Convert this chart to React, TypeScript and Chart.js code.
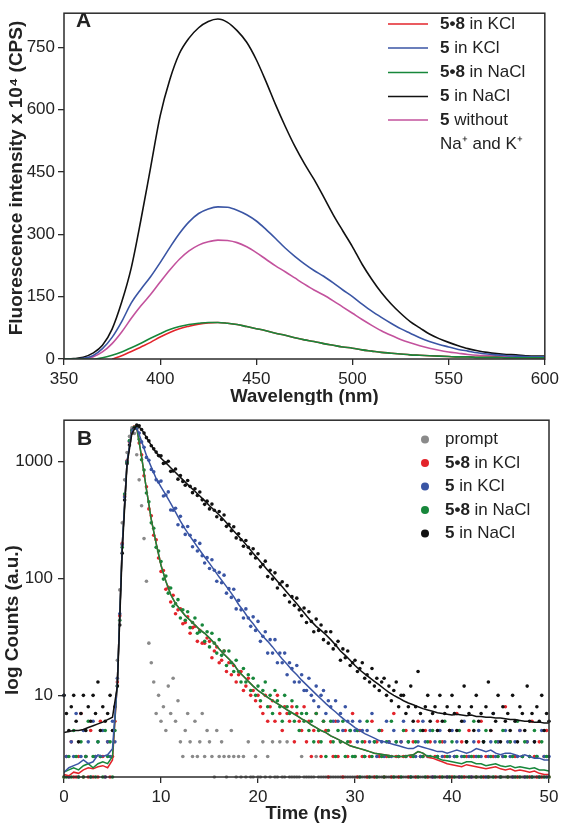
import React, { useEffect, useRef } from 'react';
import { Chart, registerables } from 'chart.js';

Chart.register(...registerables);

const FONT_FAMILY = '"Liberation Sans", Arial, Helvetica, sans-serif';
const INK = '#222222';
const FRAME = '#2b2b2b';

const RED = '#e3242b';
const BLUE = '#3a55a4';
const GREEN = '#17873b';
const BLACK = '#111111';
const MAGENTA = '#c3529d';
const GRAY = '#8a8a8a';

// ---------------- Panel A : emission spectra ----------------
const wavelengthNm = [
  350, 355, 360, 365, 370, 375, 380, 385, 390, 395,
  400, 405, 410, 415, 420, 425, 430, 435, 440, 445,
  450, 455, 460, 465, 470, 475, 480, 485, 490, 495,
  500, 505, 510, 515, 520, 525, 530, 535, 540, 545,
  550, 555, 560, 565, 570, 575, 580, 585, 590, 595, 600,
];
const wavelengthTicks = [350, 400, 450, 500, 550, 600];
const intensityTicks = [0, 150, 300, 450, 600, 750];

const emission58KCl = [
  null, null, null, null, null, 0, 8, 18, 29, 40,
  53, 64, 73, 79, 84, 87, 88, 86, 83, 78,
  73, 68, 62, 57, 51, 46, 42, 37, 33, 29,
  26, 22, 19, 16, 14, 12, 10, 9, 8, 7,
  6, 5, 5, 4, 4, 4, 3, 3, 3, 3, 3,
];
const emission5KCl = [
  0, 0, 2, 8, 25, 52, 90, 135, 168, 198,
  232, 268, 302, 330, 350, 361, 366, 365, 358, 347,
  332, 312, 290, 267, 247, 229, 213, 199, 183, 166,
  150, 132, 115, 100, 86, 73, 62, 51, 42, 35,
  29, 23, 19, 15, 12, 10, 8, 7, 6, 5, 5,
];
const emission58NaCl = [
  0, 0, 0, 0, 3, 9, 17, 27, 38, 50,
  61, 71, 78, 83, 86, 88, 88, 86, 83, 78,
  73, 68, 62, 57, 51, 46, 42, 37, 33, 29,
  26, 22, 19, 16, 14, 12, 10, 9, 8, 7,
  6, 5, 5, 4, 4, 4, 3, 3, 3, 3, 3,
];
const emission5NaCl = [
  0, 1, 4, 14, 33, 72, 137, 220, 335, 460,
  585, 672, 735, 772, 797, 812, 818, 810, 790, 762,
  720, 668, 612, 560, 512, 470, 432, 390, 347, 308,
  270, 228, 192, 160, 133, 110, 90, 75, 60, 49,
  40, 32, 25, 20, 16, 13, 11, 10, 8, 7, 7,
];
const emission5Free = [
  0, 0, 1, 5, 17, 37, 65, 98, 128, 155,
  185, 214, 240, 260, 274, 282, 286, 285, 280, 270,
  256, 240, 224, 210, 195, 180, 166, 154, 140, 125,
  110, 95, 81, 68, 57, 47, 39, 32, 26, 21,
  17, 14, 11, 9, 8, 7, 6, 5, 5, 4, 4,
];

const spectraLegendBold = ['5\u20228', '5', '5\u20228', '5', '5'];
const spectraLegendRest = [' in KCl', ' in KCl', ' in NaCl', ' in NaCl', ' without'];
const spectraLegendExtra = ['', '', '', '', 'Na\u207A and K\u207A'];

// ---------------- Panel B : fluorescence decays ----------------
const CHANNEL_NS = 0.25; // width of one TCSPC channel for the dot data
const FIT_STEP_NS = 0.5; // spacing of the fitted curves
const timeTicks = [0, 10, 20, 30, 40, 50];
const countTicks = [10, 100, 1000];

const promptCounts = [
  null, null, null, null, null, null, null, null, null, null, null, null, null, null, null, null, null, null, null, null,
  null, null, 20, 80, 300, 700, 1200, 1650, 1950, 1750, 1150, 700, 420, 220, 95, 28, 19, 13, 7, 10,
  6, 8, 5, 12, 7, 14, 6, 9, 4, 3, 5, 7, 4, 3, 6, 3, 4, 7, 3, 5,
  4, 3, 2, 5, 3, 4, 3, 2, 3, 5, 3, 2, 3, 2, 3, 2, 4, 2, 2, 3,
  2, 2, 4, 2, 3, 2, 4, 2, 2, 4, 2, 2, 4, 2, 2, 2, 2, 2, 3, 2,
  2, 2, 2, 2, 3, 2, 2, 2, 2, 2, 2, 2, 2, 2, 2, 2, 2, 2, 2, 2,
  2, 2, 2, 2, 2, 2, 2, 2, 2, 2, 2, 2, 2, 2, 2, 2, 2, 2, 2, 2,
  2, 2, 2, 2, 2, 2, 2, 2, 2, 2, 2, 2, 2, 2, 2, 2, 2, 2, 2, 2,
  2, 2, 2, 2, 2, 2, 2, 2, 2, 2, 2, 2, 2, 2, 2, 2, 2, 2, 2, 2,
  2, 2, 2, 2, 2, 2, 2, 2, 2, 2, 2, 2, 2, 2, 2, 2, 2, 2, 2, 2,
  null,
];
const counts58KCl = [
  2, 3, 2, 4, 2, 2, 3, 7, 2, 3, 2, 5, 2, 3, 2, 6, 3, 2, 4, 2,
  3, 6, 13, 48, 200, 510, 1020, 1480, 1860, 1990, 1930, 1450, 1150, 760, 610, 395, 345, 235, 215, 150,
  115, 117, 81, 84, 63, 72, 50, 54, 55, 41, 42, 47, 34, 38, 39, 29, 36, 28, 28, 31,
  29, 21, 24, 26, 19, 20, 24, 16, 19, 15, 18, 13, 15, 16, 11, 12, 14, 10, 11, 9,
  10, 8, 7, 10, 6, 8, 9, 6, 10, 7, 5, 8, 7, 6, 8, 4, 7, 6, 5, 8,
  4, 6, 3, 5, 7, 4, 3, 6, 5, 2, 4, 3, 6, 3, 4, 2, 5, 3, 4, 7,
  3, 2, 5, 3, 4, 2, 3, 6, 2, 4, 3, 5, 2, 3, 4, 2, 7, 3, 2, 4,
  3, 5, 2, 3, 4, 2, 6, 3, 3, 5, 2, 4, 2, 3, 6, 2, 4, 3, 2, 5,
  2, 3, 7, 2, 4, 2, 3, 5, 2, 3, 2, 4, 6, 2, 3, 2, 5, 3, 2, 4,
  2, 3, 8, 2, 4, 2, 3, 2, 5, 3, 2, 4, 2, 6, 3, 2, 4, 2, 3, 5,
  2,
];
const counts5KCl = [
  10, 3, 2, 4, 3, 7, 2, 3, 5, 3, 4, 2, 6, 3, 4, 3, 5, 2, 4, 3,
  6, 4, 14, 50, 195, 500, 1010, 1500, 1870, 1960, 1940, 1760, 1480, 1330, 1090, 1030, 860, 820, 700, 670,
  683, 509, 520, 552, 387, 385, 400, 289, 341, 278, 239, 279, 235, 187, 212, 172, 200, 157, 136, 151,
  122, 145, 118, 95, 113, 92, 107, 75, 82, 69, 81, 55, 65, 54, 46, 55, 46, 39, 47, 36,
  43, 29, 32, 35, 23, 30, 23, 30, 19, 23, 19, 23, 15, 19, 17, 13, 18, 13, 15, 11,
  11, 14, 10, 9, 12, 8, 10, 11, 7, 9, 8, 6, 9, 6, 7, 5, 8, 6, 5, 6,
  5, 4, 6, 5, 3, 5, 4, 7, 4, 3, 5, 4, 3, 6, 4, 3, 5, 4, 3, 4,
  6, 3, 4, 2, 5, 3, 4, 3, 6, 4, 3, 5, 2, 4, 3, 5, 3, 4, 2, 3,
  5, 3, 4, 2, 3, 6, 4, 3, 2, 4, 3, 5, 3, 4, 2, 3, 4, 7, 3, 4,
  2, 3, 5, 4, 3, 2, 4, 3, 5, 3, 2, 4, 3, 2, 4, 3, 2, 5, 3, 2,
  3,
];
const counts58NaCl = [
  2, 2, 3, 2, 5, 3, 2, 4, 2, 3, 6, 2, 3, 2, 4, 3, 2, 5, 3, 4,
  2, 5, 12, 44, 185, 530, 990, 1520, 1840, 1970, 1960, 1560, 1040, 850, 540, 455, 300, 270, 185, 172,
  140, 99, 105, 75, 83, 58, 61, 66, 46, 54, 44, 52, 38, 42, 46, 34, 35, 40, 29, 35,
  26, 34, 28, 23, 30, 22, 24, 18, 24, 19, 16, 20, 16, 13, 17, 13, 15, 11, 14, 10,
  12, 9, 11, 13, 8, 10, 7, 11, 9, 8, 6, 10, 8, 7, 9, 6, 8, 5, 7, 6,
  7, 5, 6, 4, 7, 5, 4, 6, 3, 5, 6, 4, 3, 5, 4, 6, 3, 4, 5, 3,
  3, 5, 2, 4, 3, 6, 2, 3, 4, 2, 5, 3, 2, 4, 3, 6, 2, 4, 3, 2,
  5, 3, 4, 2, 3, 4, 2, 5, 3, 2, 4, 3, 5, 2, 3, 4, 2, 6, 3, 2,
  4, 2, 3, 5, 2, 3, 4, 2, 3, 6, 2, 3, 2, 4, 5, 2, 3, 2, 4, 3,
  2, 5, 3, 2, 4, 3, 2, 6, 2, 3, 4, 2, 3, 2, 5, 3, 2, 4, 2, 3,
  2,
];
const counts5NaCl = [
  10, 7, 5, 8, 10, 6, 4, 7, 10, 5, 8, 6, 10, 7, 13, 5, 8, 6, 7, 10,
  5, 8, 12, 40, 165, 470, 960, 1390, 1760, 1940, 2060, 2030, 1890, 1760, 1610, 1510, 1370, 1290, 1210, 1130,
  1124, 969, 980, 1010, 828, 833, 867, 710, 764, 679, 630, 691, 616, 544, 588, 514, 551, 472, 432, 460,
  395, 434, 385, 338, 375, 321, 350, 280, 291, 257, 278, 223, 242, 215, 189, 212, 185, 163, 180, 150,
  163, 126, 132, 141, 104, 118, 99, 112, 83, 90, 94, 72, 87, 63, 70, 59, 68, 54, 48, 56,
  42, 52, 43, 35, 45, 36, 40, 30, 35, 28, 35, 25, 27, 29, 20, 25, 21, 24, 18, 19,
  20, 16, 17, 19, 14, 15, 13, 17, 12, 14, 11, 13, 14, 10, 12, 9, 11, 13, 8, 10,
  10, 7, 8, 12, 6, 8, 16, 7, 5, 8, 10, 6, 7, 8, 5, 10, 6, 7, 8, 5,
  10, 7, 5, 8, 6, 12, 4, 7, 8, 5, 10, 6, 7, 4, 8, 13, 5, 7, 6, 10,
  4, 8, 6, 7, 5, 10, 6, 4, 8, 7, 5, 12, 6, 7, 4, 8, 6, 10, 5, 7,
  6,
];

const fit58KCl = [
  2.1, 2.05, 2.2, 2.15, 2.3, 2.4, 2.35, 2.45, 2.5, 2.4,
  2.8, 13, 190, 1000, 1850, 1950, 1100, 580, 320, 200,
  130, 95, 73, 61, 54, 48, 44, 40, 36.5, 34,
  31, 28, 25, 22.5, 20.5, 18.5, 16, 14.6, 13.2, 12,
  11, 10.3, 9.6, 9, 8.5, 8, 7.5, 7.1, 6.7, 6.3,
  6.0, 5.6, 5.3, 5.0, 4.8, 4.5, 4.3, 4.1, 3.9, 3.7,
  3.6, 3.5, 3.4, 3.3, 3.2, 3.15, 3.1, 3.05, 3.0, 3.0,
  3.0, 3.05, 3.1, 3.3, 3.2, 2.95, 2.9, 2.8, 2.7, 2.6,
  2.55, 2.5, 2.45, 2.55, 2.5, 2.45, 2.4, 2.35, 2.4, 2.45,
  2.35, 2.3, 2.35, 2.25, 2.3, 2.25, 2.2, 2.25, 2.15, 2.1,
  2.1,
];
const fit5KCl = [
  2.2, 2.4, 2.5, 2.6, 2.8, 2.6, 2.7, 3.1, 3.0, 3.1,
  3.5, 13, 190, 1000, 1850, 1950, 1500, 1130, 900, 720,
  610, 520, 440, 370, 310, 265, 230, 200, 175, 153,
  135, 118, 103, 91, 80, 70, 60, 53, 46, 41,
  36, 32, 29, 26, 23, 20.5, 18.5, 16.5, 15, 13.5,
  12.3, 11.2, 10.2, 9.3, 8.5, 7.8, 7.2, 6.6, 6.1, 5.7,
  5.3, 5.0, 4.7, 4.5, 4.3, 4.1, 4.0, 3.9, 3.8, 3.7,
  3.6, 3.5, 3.5, 3.7, 3.6, 3.5, 3.4, 3.3, 3.3, 3.2,
  3.3, 3.4, 3.3, 3.2, 3.3, 3.5, 3.4, 3.3, 3.4, 3.2,
  3.1, 3.2, 3.2, 3.1, 3.0, 3.1, 3.0, 2.9, 2.9, 2.8,
  2.8,
];
const fit58NaCl = [
  2.2, 2.3, 2.4, 2.3, 2.5, 2.6, 2.4, 2.6, 2.7, 2.6,
  3.0, 13, 190, 1000, 1850, 1950, 1100, 580, 320, 200,
  130, 95, 73, 61, 54, 48, 44, 40, 36.5, 34,
  31, 28, 25, 22.5, 20.5, 18.5, 16, 14.6, 13.2, 12,
  11, 10.3, 9.6, 9, 8.5, 8, 7.5, 7.1, 6.7, 6.3,
  6.0, 5.6, 5.3, 5.0, 4.8, 4.5, 4.3, 4.1, 3.9, 3.7,
  3.6, 3.5, 3.4, 3.3, 3.2, 3.15, 3.1, 3.05, 3.0, 3.0,
  3.0, 3.05, 3.1, 3.3, 3.2, 3.0, 3.0, 2.9, 2.8, 2.75,
  2.7, 2.65, 2.6, 2.7, 2.7, 2.6, 2.6, 2.5, 2.55, 2.6,
  2.5, 2.45, 2.5, 2.4, 2.45, 2.4, 2.35, 2.4, 2.3, 2.3,
  2.25,
];
const fit5NaCl = [
  4.8, 4.9, 5.0, 5.0, 5.1, 5.3, 5.5, 5.7, 5.9, 6.2,
  6.5, 12, 170, 950, 1750, 2050, 1900, 1620, 1380, 1200,
  1070, 980, 890, 810, 735, 670, 610, 560, 510, 465,
  420, 385, 350, 318, 285, 255, 230, 208, 185, 165,
  148, 132, 118, 106, 95, 85, 76, 68, 61, 54,
  48, 43, 39, 36, 33, 30, 27, 24, 22, 20,
  18, 16.5, 15.3, 14.2, 13.2, 12.3, 11.4, 10.6, 10, 9.5,
  9, 8.6, 8.3, 8, 7.7, 7.5, 7.3, 7.1, 7.0, 6.9,
  6.8, 6.9, 6.8, 6.7, 6.8, 6.6, 6.6, 6.5, 6.5, 6.4,
  6.4, 6.3, 6.2, 6.2, 6.1, 6.0, 6.0, 5.9, 5.9, 5.8,
  5.8,
];

const decayLegendBold = ['', '5\u20228', '5', '5\u20228', '5'];
const decayLegendRest = ['prompt', ' in KCl', ' in KCl', ' in NaCl', ' in NaCl'];
const decayLegendColors = [GRAY, RED, BLUE, GREEN, BLACK];

// ---------------- helpers ----------------
const font = (size: number, bold = false) => `${bold ? 'bold ' : ''}${size}px ${FONT_FAMILY}`;

function drawMixed(ctx: CanvasRenderingContext2D, x: number, y: number, bold: string, rest: string, size: number) {
  ctx.textAlign = 'left';
  ctx.textBaseline = 'middle';
  ctx.fillStyle = INK;
  let cx = x;
  if (bold) {
    ctx.font = font(size, true);
    ctx.fillText(bold, cx, y);
    cx += ctx.measureText(bold).width;
  }
  ctx.font = font(size, false);
  ctx.fillText(rest, cx, y);
}

function drawFrame(ctx: CanvasRenderingContext2D, area: any) {
  ctx.save();
  ctx.strokeStyle = FRAME;
  ctx.lineWidth = 1.5;
  ctx.strokeRect(area.left, area.top, area.right - area.left, area.bottom - area.top);
  ctx.restore();
}

function drawTitles(ctx: CanvasRenderingContext2D, xTitle: string, xX: number, xY: number, yTitle: string, yX: number, yY: number) {
  ctx.save();
  ctx.fillStyle = INK;
  ctx.textAlign = 'center';
  ctx.textBaseline = 'middle';
  ctx.font = font(18.5, true);
  ctx.fillText(xTitle, xX, xY);
  ctx.font = font(19, true);
  ctx.translate(yX, yY);
  ctx.rotate(-Math.PI / 2);
  ctx.fillText(yTitle, 0, 0);
  ctx.restore();
}

function scaleOptions(tickValues: number[], isX: boolean, fit: number, pad: number, extra: any) {
  return {
    ...extra,
    afterBuildTicks: (scale: any) => {
      scale.ticks = tickValues.map((v) => ({ value: v }));
    },
    afterFit: (scale: any) => {
      if (isX) scale.height = fit;
      else scale.width = fit;
    },
    grid: { display: true, drawOnChartArea: false, drawTicks: true, tickLength: 6, color: FRAME, lineWidth: 1.3 },
    border: { display: false },
    title: { display: false },
    ticks: {
      font: { family: FONT_FAMILY, size: 17 },
      color: INK,
      padding: pad,
      maxRotation: 0,
      autoSkip: false,
      callback: (v: any) => String(v),
    },
  };
}

function buildSpectraConfig() {
  const series = [
    { label: '5\u20228 in KCl', values: emission58KCl, color: RED, order: 1 },
    { label: '5 in KCl', values: emission5KCl, color: BLUE, order: 2 },
    { label: '5\u20228 in NaCl', values: emission58NaCl, color: GREEN, order: 0 },
    { label: '5 in NaCl', values: emission5NaCl, color: BLACK, order: 3 },
    { label: '5 without Na\u207A and K\u207A', values: emission5Free, color: MAGENTA, order: 4 },
  ];
  const decor = {
    id: 'spectraDecor',
    afterDraw(chart: any) {
      const ctx: CanvasRenderingContext2D = chart.ctx;
      const area = chart.chartArea;
      drawFrame(ctx, area);
      ctx.save();
      ctx.fillStyle = INK;
      ctx.font = font(21, true);
      ctx.textAlign = 'left';
      ctx.textBaseline = 'middle';
      ctx.fillText('A', 76, 21);
      const rowY = [24, 48, 72.5, 96.5, 120];
      series.forEach((s, i) => {
        ctx.strokeStyle = s.color;
        ctx.lineWidth = 1.6;
        ctx.beginPath();
        ctx.moveTo(388, rowY[i]);
        ctx.lineTo(428, rowY[i]);
        ctx.stroke();
        drawMixed(ctx, 440, rowY[i], spectraLegendBold[i], spectraLegendRest[i], 17);
        if (spectraLegendExtra[i]) drawMixed(ctx, 440, rowY[i] + 24, '', spectraLegendExtra[i], 17);
      });
      ctx.restore();
      drawTitles(ctx, 'Wavelength (nm)', (area.left + area.right) / 2, 397,
        'Fluorescence intensity x 10\u2074 (CPS)', 17, 178);
    },
  };
  return {
    type: 'scatter',
    data: {
      datasets: series.map((s) => ({
        label: s.label,
        data: wavelengthNm
          .map((w, i) => ({ x: w, y: s.values[i] }))
          .filter((p) => p.y !== null),
        showLine: true,
        borderColor: s.color,
        backgroundColor: s.color,
        borderWidth: 1.6,
        pointRadius: 0,
        cubicInterpolationMode: 'monotone',
        order: s.order,
      })),
    },
    options: {
      responsive: false,
      animation: false,
      devicePixelRatio: 1,
      events: [],
      layout: { padding: { left: 0, right: 13, top: 1, bottom: 0 } },
      plugins: { legend: { display: false }, tooltip: { enabled: false } },
      scales: {
        x: scaleOptions(wavelengthTicks, true, 46, 4, { type: 'linear', min: 350, max: 600 }),
        y: scaleOptions(intensityTicks, false, 64, 3, { type: 'linear', min: 0, max: 832 }),
      },
    },
    plugins: [decor],
  };
}

function buildDecayConfig() {
  const dotSeries = [
    { label: 'prompt', values: promptCounts, color: GRAY, order: 8 },
    { label: '5\u20228 in KCl', values: counts58KCl, color: RED, order: 7 },
    { label: '5 in KCl', values: counts5KCl, color: BLUE, order: 6 },
    { label: '5\u20228 in NaCl', values: counts58NaCl, color: GREEN, order: 5 },
    { label: '5 in NaCl', values: counts5NaCl, color: BLACK, order: 4 },
  ];
  const fitSeries = [
    { label: '5\u20228 in KCl fit', values: fit58KCl, color: RED, order: 3 },
    { label: '5 in KCl fit', values: fit5KCl, color: BLUE, order: 1 },
    { label: '5\u20228 in NaCl fit', values: fit58NaCl, color: GREEN, order: 2 },
    { label: '5 in NaCl fit', values: fit5NaCl, color: BLACK, order: 0 },
  ];
  const decor = {
    id: 'decayDecor',
    afterDraw(chart: any) {
      const ctx: CanvasRenderingContext2D = chart.ctx;
      const area = chart.chartArea;
      drawFrame(ctx, area);
      ctx.save();
      ctx.fillStyle = INK;
      ctx.font = font(21, true);
      ctx.textAlign = 'left';
      ctx.textBaseline = 'middle';
      ctx.fillText('B', 77, 34);
      const rowY = [34.5, 58, 81.5, 105, 128.5];
      decayLegendColors.forEach((c, i) => {
        ctx.fillStyle = c;
        ctx.beginPath();
        ctx.arc(425, rowY[i], 4, 0, Math.PI * 2);
        ctx.fill();
        drawMixed(ctx, 445, rowY[i], decayLegendBold[i], decayLegendRest[i], 17);
      });
      ctx.restore();
      drawTitles(ctx, 'Time (ns)', (area.left + area.right) / 2, 409, 'log Counts (a.u.)', 13, 215);
    },
  };
  const dots = dotSeries.map((s) => ({
    label: s.label,
    data: s.values
      .map((c, i) => ({ x: i * CHANNEL_NS, y: c }))
      .filter((p) => p.y !== null),
    backgroundColor: s.color,
    borderWidth: 0,
    pointRadius: 1.8,
    showLine: false,
    clip: 4,
    order: s.order,
  }));
  const fits = fitSeries.map((s) => ({
    label: s.label,
    data: s.values.map((c, i) => ({ x: i * FIT_STEP_NS, y: c })),
    borderColor: s.color,
    backgroundColor: s.color,
    borderWidth: 1.5,
    pointRadius: 0,
    showLine: true,
    order: s.order,
  }));
  return {
    type: 'scatter',
    data: { datasets: [...dots, ...fits] },
    options: {
      responsive: false,
      animation: false,
      devicePixelRatio: 1,
      events: [],
      layout: { padding: { left: 0, right: 14, top: 13, bottom: 0 } },
      plugins: { legend: { display: false }, tooltip: { enabled: false } },
      scales: {
        x: scaleOptions(timeTicks, true, 49, 4, { type: 'linear', min: 0, max: 50 }),
        y: scaleOptions(countTicks, false, 64, 5, { type: 'logarithmic', min: 2, max: 2270 }),
      },
    },
    plugins: [decor],
  };
}

export default function App() {
  const topRef = useRef<HTMLCanvasElement>(null);
  const bottomRef = useRef<HTMLCanvasElement>(null);

  useEffect(() => {
    const charts: Chart[] = [];
    if (topRef.current) charts.push(new Chart(topRef.current, buildSpectraConfig() as any));
    if (bottomRef.current) charts.push(new Chart(bottomRef.current, buildDecayConfig() as any));
    return () => {
      charts.forEach((c) => c.destroy());
    };
  }, []);

  return (
    <div style={{ position: 'absolute', left: 0, top: 0, width: 563, height: 826, background: '#ffffff' }}>
      <canvas ref={topRef} width={563} height={405} style={{ position: 'absolute', left: 0, top: 0 }} />
      <canvas ref={bottomRef} width={563} height={421} style={{ position: 'absolute', left: 0, top: 405 }} />
    </div>
  );
}
